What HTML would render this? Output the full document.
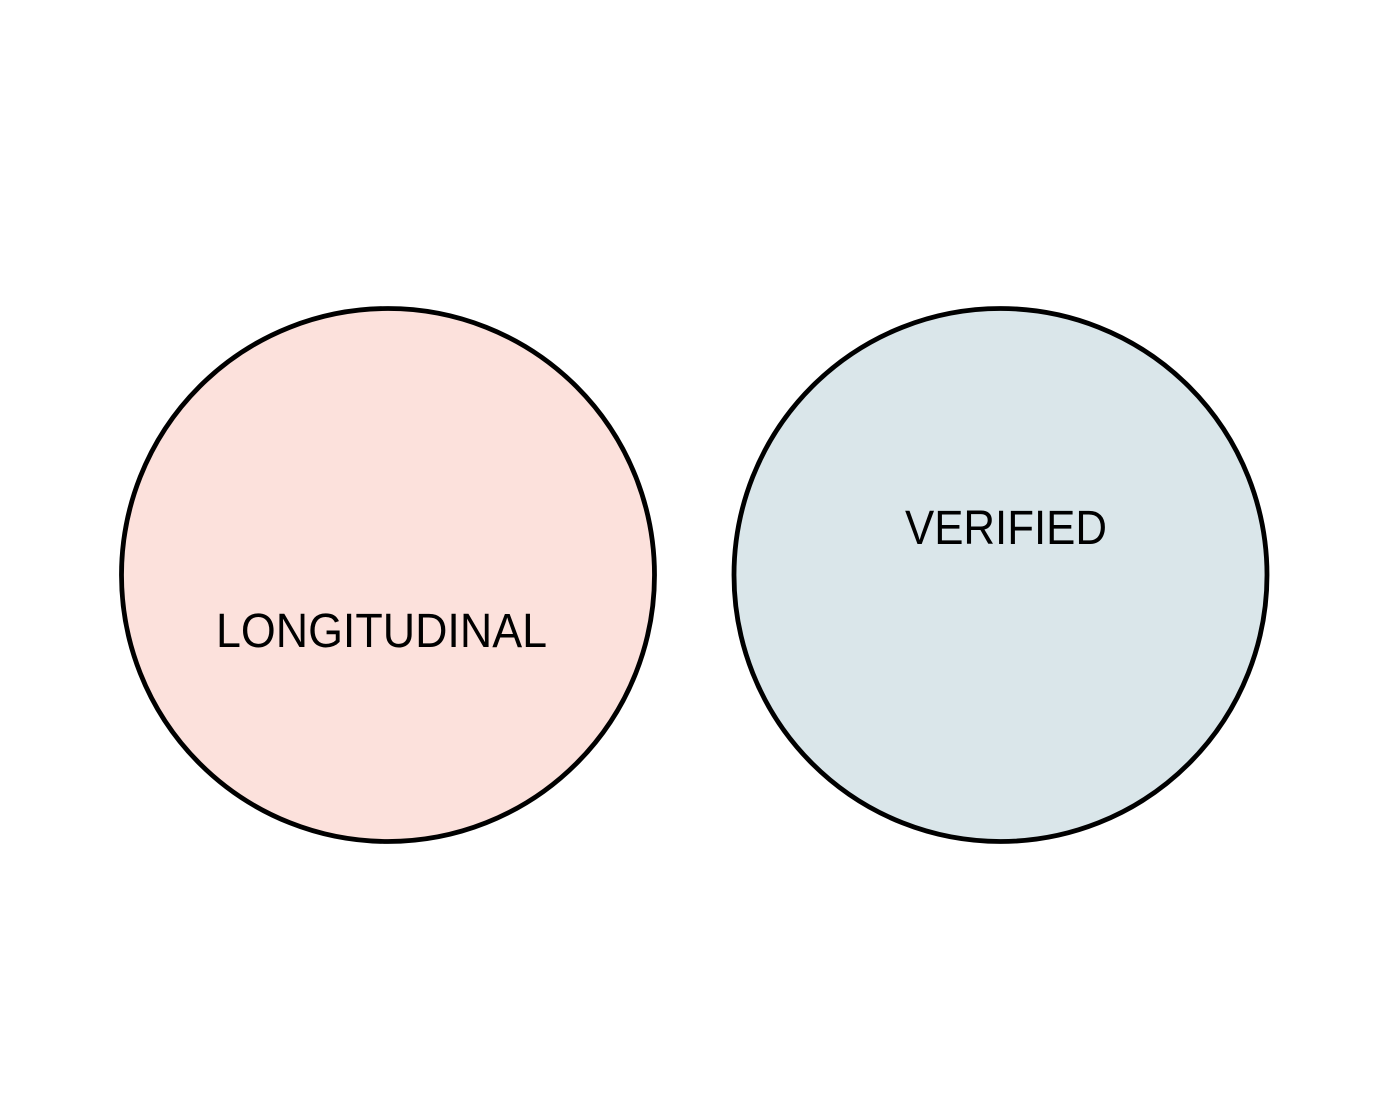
<!DOCTYPE html>
<html><head><meta charset="utf-8"><style>html,body{margin:0;padding:0;background:#fff;}svg{display:block}</style></head>
<body>
<svg width="1389" height="1119" viewBox="0 0 1389 1119" xmlns="http://www.w3.org/2000/svg">
<circle cx="388" cy="575" r="266.5" fill="#fce1dc" stroke="#000" stroke-width="4.8"/>
<circle cx="1000.5" cy="575" r="266.5" fill="#dae6ea" stroke="#000" stroke-width="4.8"/>
<text x="216" y="647" font-family="Liberation Sans, sans-serif" font-size="48" textLength="331" lengthAdjust="spacingAndGlyphs" fill="#000">LONGITUDINAL</text>
<text x="905" y="544" font-family="Liberation Sans, sans-serif" font-size="48" textLength="202" lengthAdjust="spacingAndGlyphs" fill="#000">VERIFIED</text>
</svg>
</body></html>
